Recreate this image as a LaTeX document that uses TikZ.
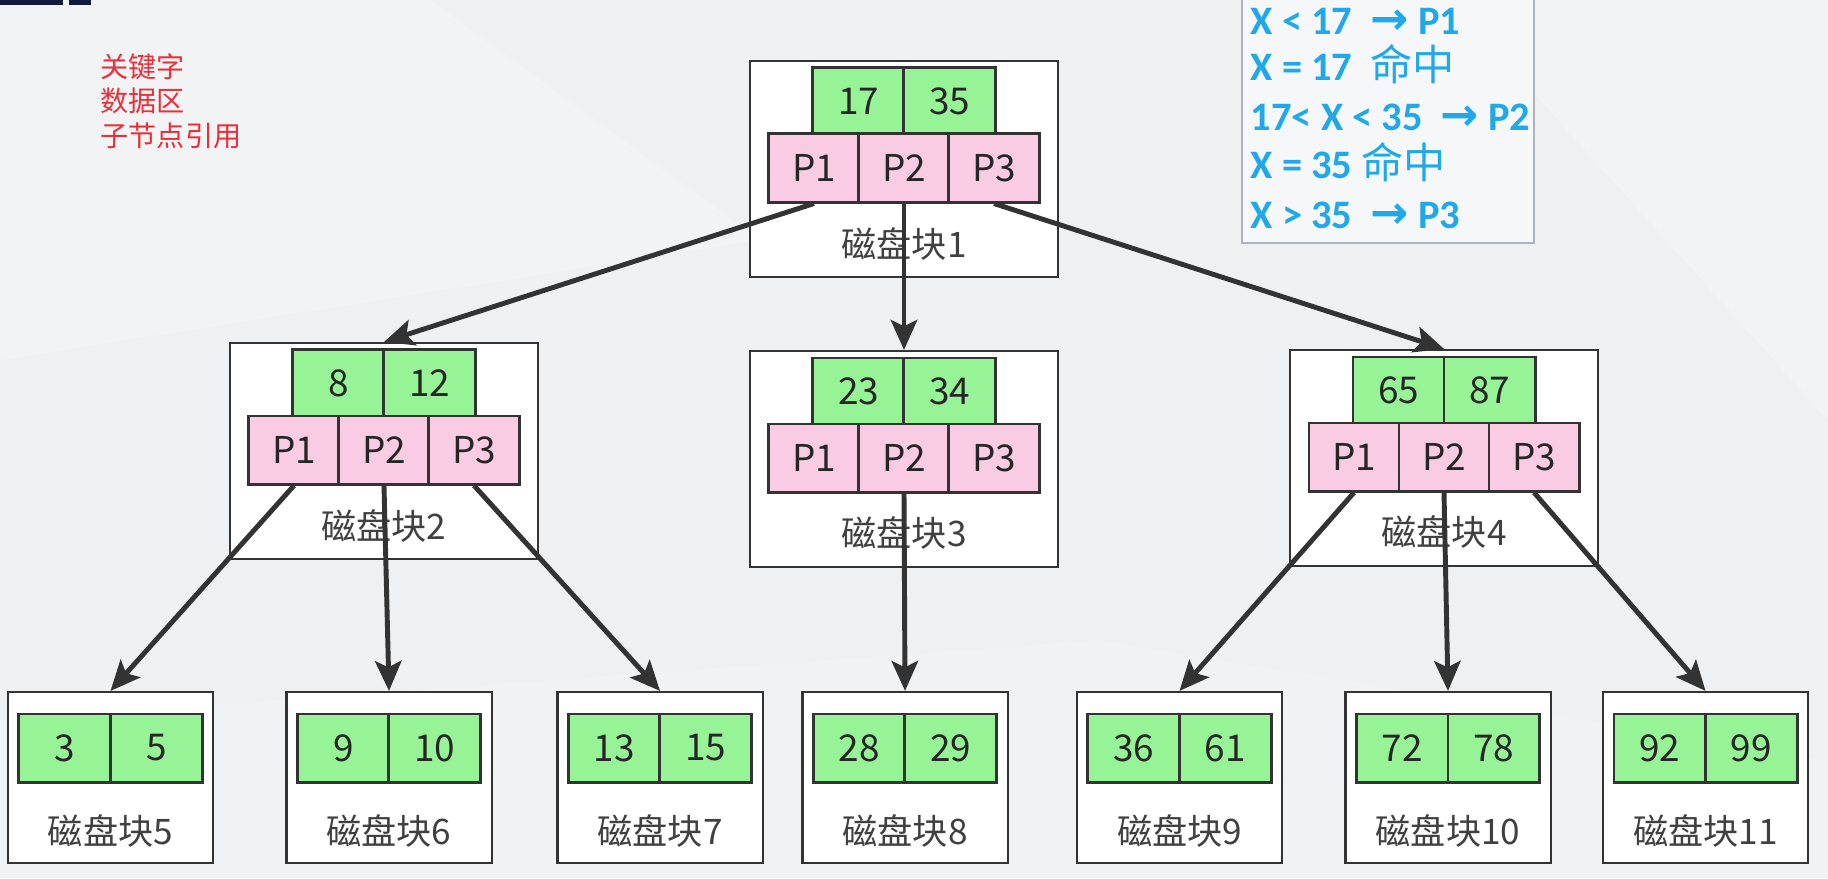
\documentclass[tikz,border=0pt]{standalone}
\usepackage{fontspec}
\newfontfamily\cjk{Noto Sans CJK SC}
\newfontfamily\legfont{Carlito}
\newfontfamily\symfont{DejaVu Sans}
\usetikzlibrary{arrows.meta}
\definecolor{keygreen}{RGB}{150,244,150}
\definecolor{ptrpink}{RGB}{250,204,228}
\definecolor{edge}{RGB}{51,51,51}
\definecolor{legblue}{RGB}{32,168,232}
\definecolor{legframe}{RGB}{172,178,190}
\definecolor{notered}{RGB}{232,48,58}
\definecolor{bgray}{RGB}{239,240,242}
\definecolor{navy}{RGB}{16,26,64}
\newcommand\legarrow{{\symfont\bfseries\fontsize{13}{13}\selectfont →}}

\begin{document}
\begin{tikzpicture}[x=0.01cm,y=-0.01cm,line join=miter,
  every node/.style={font=\cjk},
  blk/.style={draw=edge,line width=.6pt,fill=white,minimum width=3.08cm,minimum height=2.16cm,inner sep=0pt},
  leaf/.style={draw=edge,line width=.6pt,fill=white,minimum width=2.05cm,minimum height=1.71cm,inner sep=0pt},
  key/.style={draw=edge,line width=.85pt,fill=keygreen,minimum width=.91cm,minimum height=.66cm,inner sep=0pt,
    text=black!85,font=\cjk\fontsize{10.5}{12}\selectfont},
  lkey/.style={key,minimum width=.915cm,minimum height=.68cm},
  ptr/.style={draw=edge,line width=.85pt,fill=ptrpink,minimum width=.9cm,minimum height=.68cm,inner sep=0pt,
    text=black!85,font=\cjk\fontsize{10.5}{12}\selectfont},
  lbl/.style={text=black!75,font=\cjk\fontsize{10}{12}\selectfont},
  note/.style={anchor=base west,inner sep=0pt,text=notered,font=\cjk\fontsize{8}{9}\selectfont},
  leg/.style={anchor=base west,inner sep=0pt,text=legblue,font=\legfont\bfseries\fontsize{11.5}{13}\selectfont},
  link/.style={draw=edge,line width=1.4pt,-{Stealth[length=8.5pt,width=7.5pt,inset=1.8pt]}}]

  %% ---- background and slide decoration
  \useasboundingbox (0,0) rectangle (1828,878);
  \fill[bgray] (0,0) rectangle (1828,878);
  \fill[white,opacity=.22] (0,0) -- (430,0) -- (760,240) -- (0,360) -- cycle;
  \fill[white,opacity=.22] (1450,0) -- (1828,0) -- (1828,420) -- cycle;
  \fill[white,opacity=.18] (0,720) -- (1100,640) -- (1828,760) -- (1828,878) -- (0,878) -- cycle;
  \fill[navy] (0,-5) rectangle (63,5);
  \fill[navy] (69,-5) rectangle (91,5);

  %% ---- legend (top left and top right)
  \node[note] (note1) at (100,77) {关键字};
  \node[note] (note2) at (100,111) {数据区};
  \node[note] (note3) at (100,146) {子节点引用};

  \draw[draw=legframe,line width=.7pt,fill=white!45!bgray] (1242,-10) rectangle (1534,243);
  \node[leg] (leg1) at (1250,34) {X < 17\ \ \legarrow\ P1};
  \node[leg] (leg2) at (1250,80) {X = 17\ \ {\cjk\mdseries\fontsize{12}{14}\selectfont 命中}};
  \node[leg] (leg3) at (1250,130) {17< X < 35\ \ \legarrow\ P2};
  \node[leg] (leg4) at (1250,178) {X = 35 {\cjk\mdseries\fontsize{12}{14}\selectfont 命中}};
  \node[leg] (leg5) at (1250,228) {X > 35\ \ \legarrow\ P3};

  %% ---- row 1: root block
  \node[blk] (b1) at (904,169) {};
  \node[key] (b1k1) at (858.5,101) {17};
  \node[key] (b1k2) at (949.5,101) {35};
  \node[ptr] (b1p1) at (814,168) {P1};
  \node[ptr] (b1p2) at (904,168) {P2};
  \node[ptr] (b1p3) at (994,168) {P3};
  \node[lbl] (b1l) at (904,244) {磁盘块1};

  %% ---- row 2: blocks 2, 3, 4
  \node[blk] (b2) at (384,451) {};
  \node[key] (b2k1) at (338.5,383) {8};
  \node[key] (b2k2) at (429.5,383) {12};
  \node[ptr] (b2p1) at (294,450) {P1};
  \node[ptr] (b2p2) at (384,450) {P2};
  \node[ptr] (b2p3) at (474,450) {P3};
  \node[lbl] (b2l) at (384,526) {磁盘块2};

  \node[blk] (b3) at (904,459) {};
  \node[key] (b3k1) at (858.5,391) {23};
  \node[key] (b3k2) at (949.5,391) {34};
  \node[ptr] (b3p1) at (814,458) {P1};
  \node[ptr] (b3p2) at (904,458) {P2};
  \node[ptr] (b3p3) at (994,458) {P3};
  \node[lbl] (b3l) at (904,533) {磁盘块3};

  \node[blk] (b4) at (1444,458) {};
  \node[key] (b4k1) at (1398.5,390) {65};
  \node[key] (b4k2) at (1489.5,390) {87};
  \node[ptr] (b4p1) at (1354,457) {P1};
  \node[ptr] (b4p2) at (1444,457) {P2};
  \node[ptr] (b4p3) at (1534,457) {P3};
  \node[lbl] (b4l) at (1444,532) {磁盘块4};

  %% ---- row 3: leaf blocks 5 .. 11
  \node[leaf] (l5) at (110.5,777.5) {};
  \node[lkey] (l5k1) at (64.75,748) {3};
  \node[lkey] (l5k2) at (156.25,748) {5};
  \node[lbl] (l5l) at (110.5,831) {磁盘块5};

  \node[leaf] (l6) at (389,777.5) {};
  \node[lkey] (l6k1) at (343.25,748) {9};
  \node[lkey] (l6k2) at (434.75,748) {10};
  \node[lbl] (l6l) at (389,831) {磁盘块6};

  \node[leaf] (l7) at (660,777.5) {};
  \node[lkey] (l7k1) at (614.25,748) {13};
  \node[lkey] (l7k2) at (705.75,748) {15};
  \node[lbl] (l7l) at (660,831) {磁盘块7};

  \node[leaf] (l8) at (905,777.5) {};
  \node[lkey] (l8k1) at (859.25,748) {28};
  \node[lkey] (l8k2) at (950.75,748) {29};
  \node[lbl] (l8l) at (905,831) {磁盘块8};

  \node[leaf] (l9) at (1179.5,777.5) {};
  \node[lkey] (l9k1) at (1133.75,748) {36};
  \node[lkey] (l9k2) at (1225.25,748) {61};
  \node[lbl] (l9l) at (1179.5,831) {磁盘块9};

  \node[leaf] (l10) at (1448,777.5) {};
  \node[lkey] (l10k1) at (1402.25,748) {72};
  \node[lkey] (l10k2) at (1493.75,748) {78};
  \node[lbl] (l10l) at (1448,831) {磁盘块10};

  \node[leaf] (l11) at (1705.5,777.5) {};
  \node[lkey] (l11k1) at (1659.75,748) {92};
  \node[lkey] (l11k2) at (1751.25,748) {99};
  \node[lbl] (l11l) at (1705.5,831) {磁盘块11};

  %% ---- pointers (drawn last, they run over the block labels)
  \draw[link] (b1p1.south) -- (b2.north);
  \draw[link] (b1p2.south) -- (b3.north);
  \draw[link] (b1p3.south) -- (b4.north);
  \draw[link] (b2p1.south) -- (l5.north);
  \draw[link] (b2p2.south) -- (l6.north);
  \draw[link] (b2p3.south) -- (l7.north);
  \draw[link] (b3p2.south) -- (l8.north);
  \draw[link] (b4p1.south) -- (l9.north);
  \draw[link] (b4p2.south) -- (l10.north);
  \draw[link] (b4p3.south) -- (l11.north);
\end{tikzpicture}
\end{document}
